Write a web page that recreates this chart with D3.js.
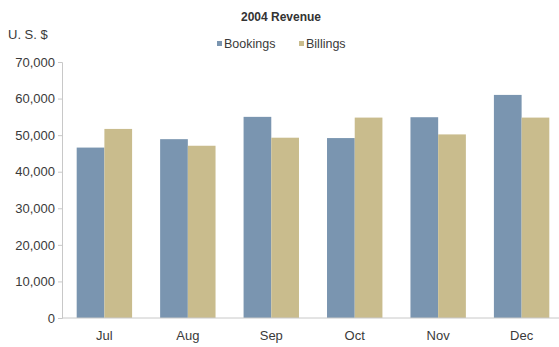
<!DOCTYPE html>
<html><head><meta charset="utf-8">
<script src="https://cdn.jsdelivr.net/npm/d3@7/dist/d3.min.js"></script>
<style>body{margin:0;background:#fff}svg{display:block}</style>
</head><body>
<script>
const months = ["Jul","Aug","Sep","Oct","Nov","Dec"];
const seriesNames = ["Bookings","Billings"];
const bookings = [46600, 48900, 55000, 49200, 54900, 61000];
const billings = [51700, 47100, 49300, 54800, 50200, 54800];
const yTicks = [0,10000,20000,30000,40000,50000,60000,70000];
const colors = ["#7a95b0","#c9bc8d"];

const W = 559, H = 347;
const svg = d3.select("body").append("svg").attr("width",W).attr("height",H);
const font = "Arial, 'Liberation Sans', sans-serif";

const x = d3.scaleBand().domain(months).range([62,564]).paddingInner(0.336).paddingOuter(0.176);
const x1 = d3.scaleBand().domain(seriesNames).range([0,x.bandwidth()]);
const y = d3.scaleLinear().domain([0,70000]).range([318,62]);

// bars
const data = months.map((m,i)=>({m, vals:[bookings[i], billings[i]]}));
const g = svg.append("g");
data.forEach(d=>{
  d.vals.forEach((v,k)=>{
    g.append("rect")
      .attr("x", x(d.m)+x1(seriesNames[k]))
      .attr("y", y(v))
      .attr("width", x1.bandwidth())
      .attr("height", y(0)-y(v))
      .attr("fill", colors[k]);
  });
});

// y axis
const yAxis = svg.append("g").attr("transform","translate(62,0)")
  .call(d3.axisLeft(y).tickValues(yTicks).tickSize(4).tickPadding(3).tickFormat(d3.format(",")));
yAxis.select(".domain").attr("stroke","#c8c8c8");
yAxis.selectAll(".tick line").attr("stroke","#c8c8c8");
yAxis.selectAll("text").attr("font-family",font).attr("font-size",13).attr("fill","#3a3a3a");

// x axis
const xAxis = svg.append("g").attr("transform","translate(0,318)")
  .call(d3.axisBottom(x).tickSize(0).tickPadding(13));
xAxis.select(".domain").attr("d","M62,0H559").attr("stroke","#c8c8c8");
xAxis.selectAll("text").attr("font-family",font).attr("font-size",13).attr("fill","#3a3a3a");

// title
svg.append("text").attr("x",281).attr("y",21).attr("text-anchor","middle")
  .attr("font-family",font).attr("font-size",12).attr("font-weight","bold").attr("fill","#333")
  .text("2004 Revenue");
svg.append("text").attr("x",8).attr("y",39)
  .attr("font-family",font).attr("font-size",13).attr("fill","#3a3a3a").text("U. S. $");

// legend
const leg = [{x:217},{x:299}];
seriesNames.forEach((s,k)=>{
  svg.append("rect").attr("x",leg[k].x).attr("y",41).attr("width",5).attr("height",5).attr("fill",colors[k]);
  svg.append("text").attr("x",leg[k].x+7).attr("y",48)
    .attr("font-family",font).attr("font-size",12.5).attr("fill","#3a3a3a").text(s);
});
</script>
</body></html>
